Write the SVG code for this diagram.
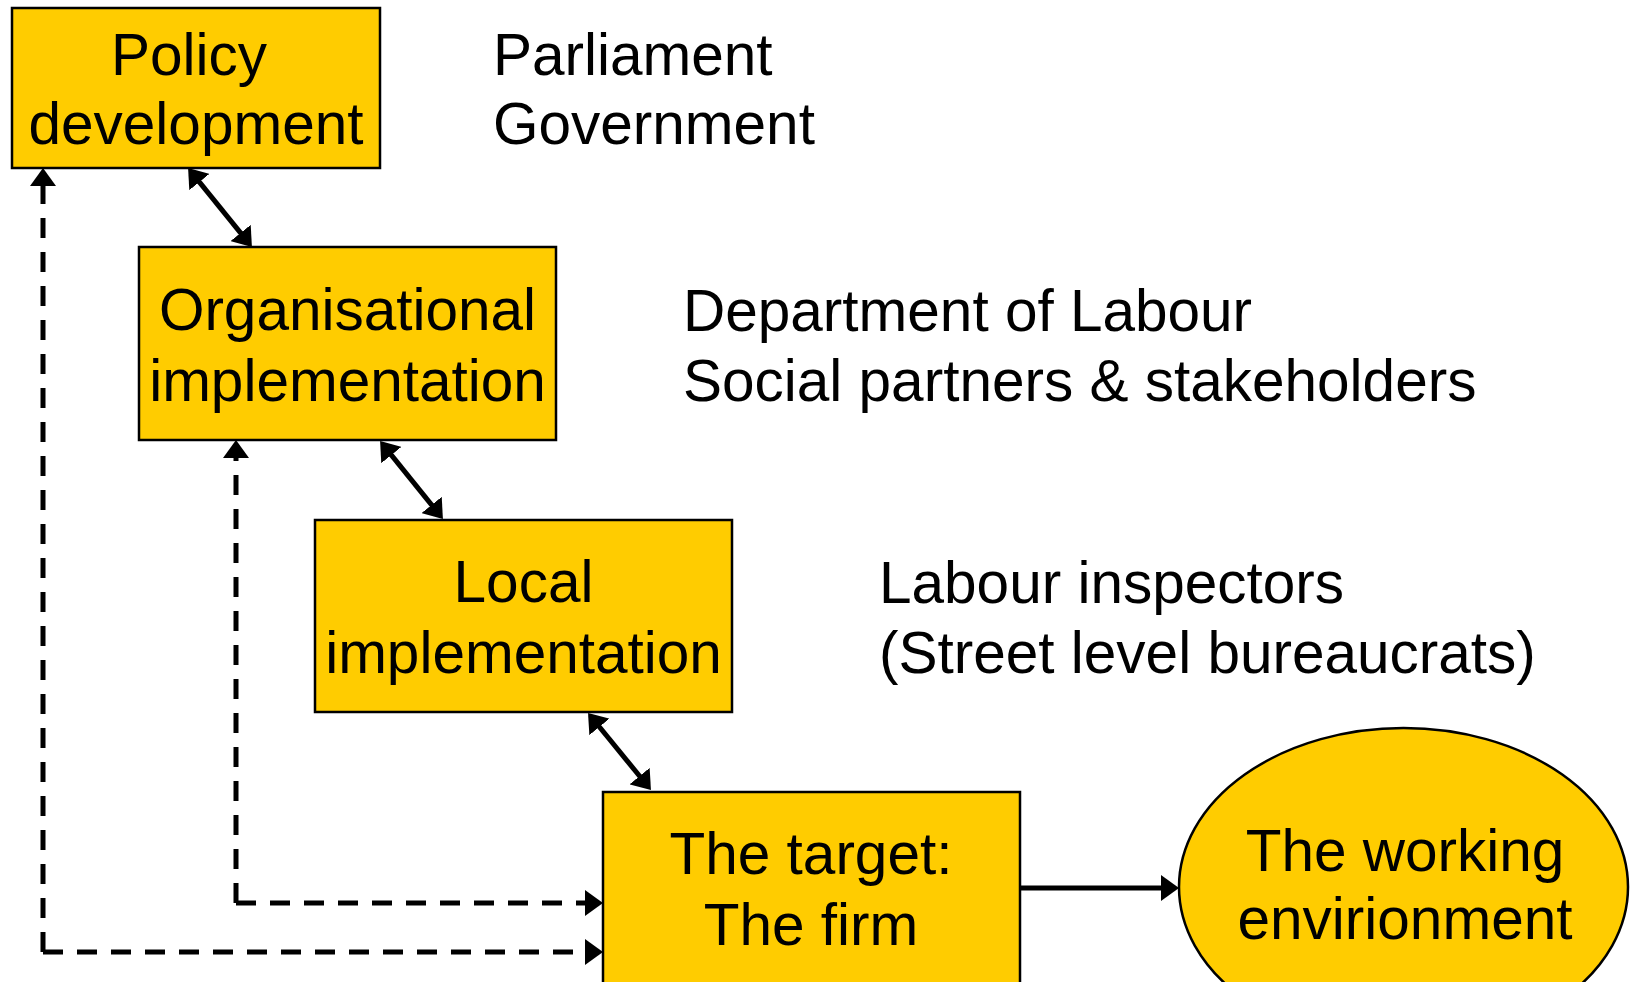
<svg xmlns="http://www.w3.org/2000/svg" width="1630" height="982" viewBox="0 0 1630 982">
<style>
.box{fill:#FFCC00;stroke:#000;stroke-width:2.5}
.t{font-family:"Liberation Sans",Arial,sans-serif;font-size:58.5px;fill:#000}
.c{text-anchor:middle}
</style>
<defs>
<marker id="ah" markerUnits="userSpaceOnUse" markerWidth="20" markerHeight="26" refX="7" refY="13" orient="auto-start-reverse" viewBox="0 0 20 26">
<path d="M0,0 L18,13 L0,26 z" fill="#000"/>
</marker>
</defs>
<rect width="1630" height="982" fill="#fff"/>
<g id="policy">
<rect class="box" x="12" y="8" width="368" height="160"/>
<text class="t c" x="189" y="75">Policy</text>
<text class="t c" x="196" y="144">development</text>
</g>
<g id="label-parliament">
<text class="t" x="493" y="75">Parliament</text>
<text class="t" x="493" y="144">Government</text>
</g>
<g id="organisational">
<rect class="box" x="139" y="247" width="417" height="193"/>
<text class="t c" x="347.5" y="330">Organisational</text>
<text class="t c" x="347.5" y="401">implementation</text>
</g>
<g id="label-department">
<text class="t" x="683" y="331">Department of Labour</text>
<text class="t" x="683" y="401">Social partners &amp; stakeholders</text>
</g>
<g id="local">
<rect class="box" x="315" y="520" width="417" height="192"/>
<text class="t c" x="523.5" y="602">Local</text>
<text class="t c" x="523.5" y="673">implementation</text>
</g>
<g id="label-inspectors">
<text class="t" x="879" y="603">Labour inspectors</text>
<text class="t" x="879" y="673">(Street level bureaucrats)</text>
</g>
<g id="target">
<rect class="box" x="603" y="792" width="417" height="210"/>
<text class="t c" x="811" y="874">The target:</text>
<text class="t c" x="811" y="945">The firm</text>
</g>
<g id="environment">
<ellipse class="box" cx="1403.5" cy="887" rx="224.5" ry="159"/>
<text class="t c" x="1405" y="871">The working</text>
<text class="t c" x="1405" y="939">envirionment</text>
</g>
<g id="connectors" fill="none" stroke="#000" stroke-width="5">
<line x1="195" y1="176.6" x2="245" y2="238.4" marker-start="url(#ah)" marker-end="url(#ah)"/>
<line x1="387" y1="449.6" x2="436" y2="510.4" marker-start="url(#ah)" marker-end="url(#ah)"/>
<line x1="595" y1="721.5" x2="644" y2="781.5" marker-start="url(#ah)" marker-end="url(#ah)"/>
<line x1="1020" y1="888" x2="1168" y2="888" marker-end="url(#ah)"/>
<path stroke-dasharray="20 14" d="M43,952 L43,179" marker-end="url(#ah)"/>
<path stroke-dasharray="20 14" d="M43,952 L592,952" marker-end="url(#ah)"/>
<path stroke-dasharray="20 14" d="M236,903 L236,451" marker-end="url(#ah)"/>
<path stroke-dasharray="20 14" d="M236,903 L592,903" marker-end="url(#ah)"/>
</g>
</svg>
